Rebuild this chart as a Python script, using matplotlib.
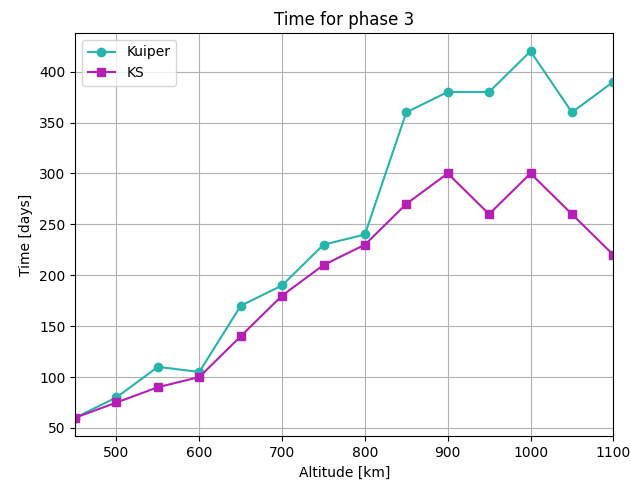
import matplotlib
matplotlib.use('Agg')
import matplotlib.pyplot as plt

altitude = [450, 500, 550, 600, 650, 700, 750, 800, 850, 900, 950, 1000, 1050, 1100]
kuiper = [60, 80, 110, 105, 170, 190, 230, 240, 360, 380, 380, 420, 360, 390]
ks = [60, 75, 90, 100, 140, 180, 210, 230, 270, 300, 260, 300, 260, 220]

fig, ax = plt.subplots(figsize=(6.31, 4.84), dpi=100)
ax.plot(altitude, kuiper, marker='o', color='#26b5ad', label='Kuiper')
ax.plot(altitude, ks, marker='s', color='#b51fb5', label='KS')
ax.set_xlim(450, 1100)
ax.set_xlabel('Altitude [km]')
ax.set_ylabel('Time [days]')
ax.set_title('Time for phase 3')
ax.grid(True)
ax.legend(loc='upper left')
fig.subplots_adjust(left=0.119, right=0.972, top=0.932, bottom=0.099)
fig.savefig('out.png', dpi=100)
